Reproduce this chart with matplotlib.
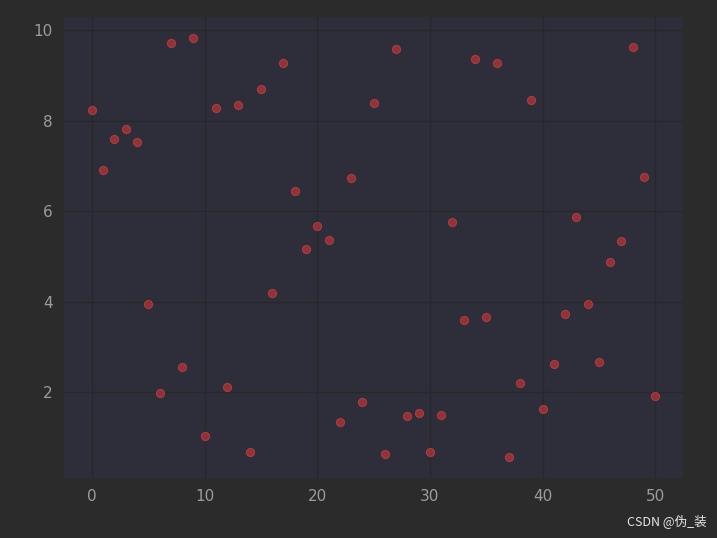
import matplotlib
matplotlib.use("Agg")
import matplotlib.pyplot as plt

plt.rcParams['font.family'] = ['DejaVu Sans', 'Noto Sans CJK SC']

x = list(range(51))
y = [8.24, 6.91, 7.60, 7.82, 7.53, 3.94, 1.98, 9.71, 2.55, 9.82,
     1.03, 8.28, 2.11, 8.35, 0.68, 8.70, 4.18, 9.27, 6.45, 5.17,
     5.66, 5.37, 1.34, 6.72, 1.78, 8.39, 0.63, 9.58, 1.47, 1.54,
     0.68, 1.49, 5.75, 3.59, 9.36, 3.65, 9.27, 0.57, 2.20, 8.46,
     1.63, 2.62, 3.72, 5.86, 3.94, 2.66, 4.87, 5.33, 9.63, 6.76,
     1.91]

fig = plt.figure(figsize=(7.17, 5.38), dpi=100, facecolor="#2b2b2b")
ax = fig.add_axes([0.089, 0.112, 0.864, 0.856])
ax.set_facecolor("#2e2e3a")
ax.scatter(x, y, s=34, c="#b43436", alpha=0.75, edgecolors="#c24044", linewidths=0.8)
ax.grid(True, color="#282828", linewidth=1.0)
ax.set_axisbelow(True)
for sp in ax.spines.values():
    sp.set_visible(False)
ax.tick_params(colors="#9c9c9c", labelsize=11, length=0, pad=8)
ax.set_xticks([0, 10, 20, 30, 40, 50])
ax.set_yticks([2, 4, 6, 8, 10])

fig.text(0.985, 0.018, "CSDN @伪_装", ha="right", va="bottom", color="#e6e6e6",
         fontsize=9, family=["Noto Sans CJK SC", "DejaVu Sans"])

fig.savefig("out.png", dpi=100, facecolor=fig.get_facecolor())
